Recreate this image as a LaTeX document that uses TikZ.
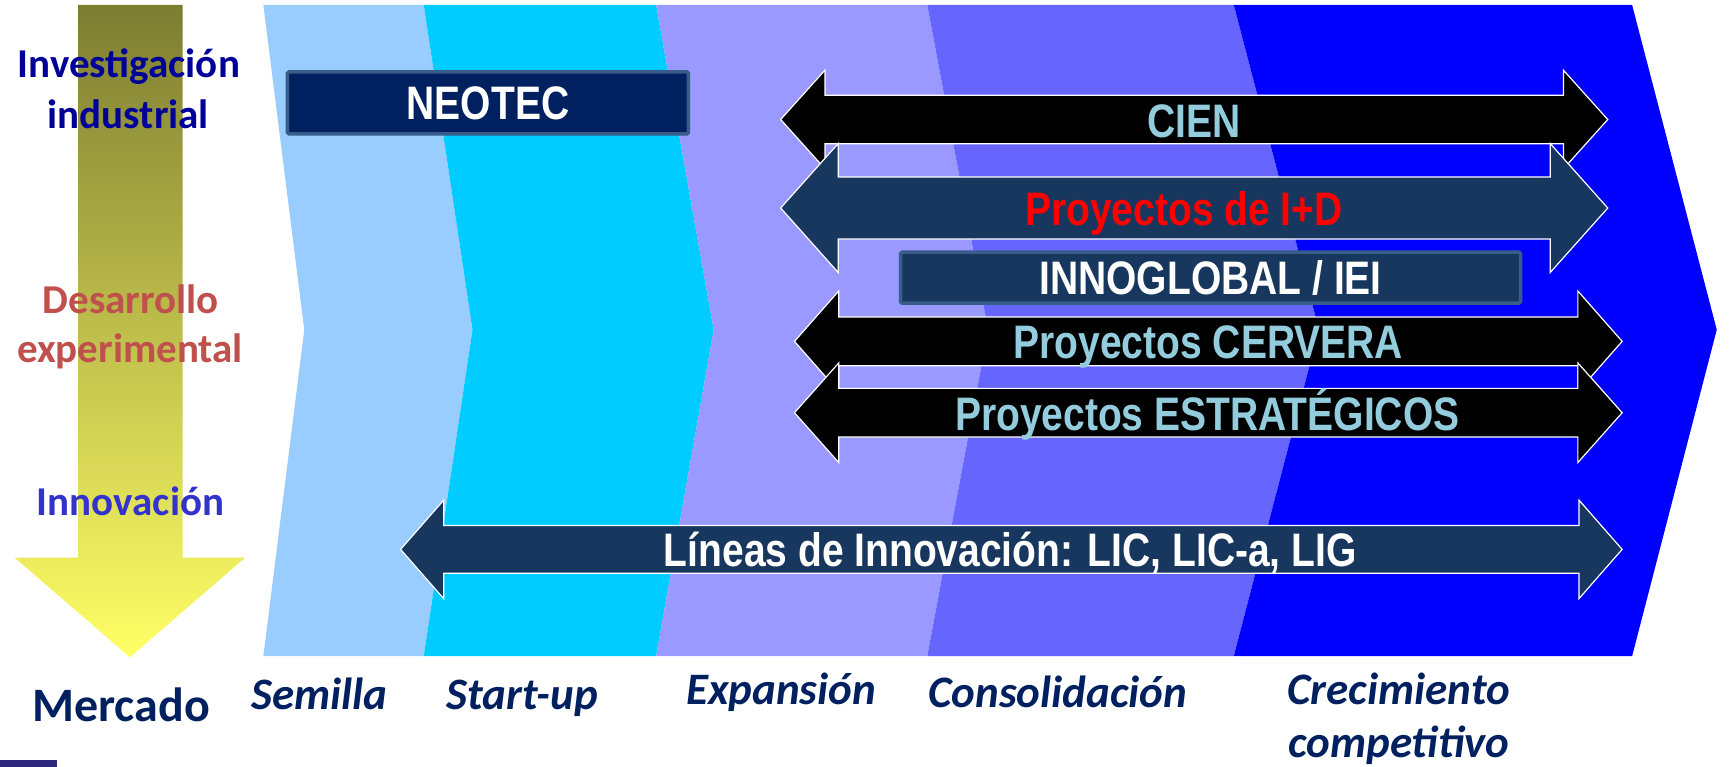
\documentclass[tikz,border=0pt]{standalone}
\usepackage{fontspec}
\setmainfont{Carlito}
\newfontfamily\arrowfont[FakeStretch=0.83]{Liberation Sans Bold}
\usetikzlibrary{positioning}

\definecolor{seedblue}{HTML}{99CCFF}
\definecolor{startblue}{HTML}{00CCFF}
\definecolor{expblue}{HTML}{9999FF}
\definecolor{consblue}{HTML}{6666FF}
\definecolor{growblue}{HTML}{0000FF}
\definecolor{navyfill}{HTML}{17375E}
\definecolor{darknavy}{HTML}{002060}
\definecolor{boxedge}{HTML}{385D8A}
\definecolor{paleaqua}{HTML}{93CDDD}
\definecolor{researchblue}{HTML}{000099}
\definecolor{devred}{HTML}{C0504D}
\definecolor{innovblue}{HTML}{3333CC}
\definecolor{oliveshade}{RGB}{125,125,50}
\definecolor{yellowshade}{RGB}{255,255,102}
\definecolor{logoblue}{RGB}{48,40,124}

% #1 left tip, #2 right tip, #3 y, #4 half shaft, #5 half head, #6 head length, #7 fill
\newcommand{\twowayarrow}[7]{%
  \filldraw[fill=#7, draw=white, line width=1.2pt, line join=miter]
    (#1,#3) -- (#1+#6,#3-#5) -- (#1+#6,#3-#4) -- (#2-#6,#3-#4) -- (#2-#6,#3-#5)
    -- (#2,#3) -- (#2-#6,#3+#5) -- (#2-#6,#3+#4) -- (#1+#6,#3+#4) -- (#1+#6,#3+#5) -- cycle;}

\begin{document}
\begin{tikzpicture}[x=1.1065pt, y=-1.1065pt,
        arrowtext/.style={anchor=base, inner sep=0pt, font={\arrowfont\fontsize{47}{50}\selectfont}},
        boxed/.style={rectangle, draw=boxedge, line width=3.5pt, rounded corners=1.5pt, text=white, text depth=0pt,
                      font={\arrowfont\fontsize{47}{50}\selectfont}},
        sidelabel/.style={anchor=base, inner sep=0pt, font={\bfseries\fontsize{41}{44}\selectfont}},
        stagelabel/.style={anchor=base, inner sep=0pt, text=darknavy, font={\bfseries\itshape\fontsize{45}{48}\selectfont}}
      ]
        \useasboundingbox (0,0) rectangle (1568,693);

        \shade[top color=oliveshade, bottom color=yellowshade]
          (70.6,4.5) -- (165,4.5) -- (165,504) -- (221.5,504) -- (117.4,594) -- (13.3,504) -- (70.6,504) -- cycle;

        \fill[seedblue]  (238,4.5) -- (275,298) -- (238,593) -- (383,593) -- (427,298) -- (383,4.5) -- cycle;
        \fill[startblue] (383,4.5) -- (427,298) -- (383,593) -- (593,593) -- (645,298) -- (593,4.5) -- cycle;
        \fill[expblue]   (593,4.5) -- (645,298) -- (593,593) -- (838,593) -- (893,298) -- (838,4.5) -- cycle;
        \fill[consblue]  (838,4.5) -- (893,298) -- (838,593) -- (1115,593) -- (1192,298) -- (1115,4.5) -- cycle;
        \fill[growblue]  (1115,4.5) -- (1192,298) -- (1115,593) -- (1475,593) -- (1551.5,298) -- (1475,4.5) -- cycle;

        \twowayarrow{705.5}{1453}{108}{22}{44.5}{40}{black}
        \twowayarrow{705.5}{1453}{188}{28}{58.25}{52}{navyfill}
        \twowayarrow{718}{1466}{308.5}{22}{45.5}{40}{black}
        \twowayarrow{718}{1466}{373}{22}{45}{40}{black}
        \twowayarrow{362}{1466}{496.5}{21.5}{44.5}{39}{navyfill}

        \node[boxed, fill=darknavy, minimum width=401pt, minimum height=62pt]  (neotec)     at (441,93)      {NEOTEC};
        \node[boxed, fill=navyfill, minimum width=620pt, minimum height=51pt]  (innoglobal) at (1094,251)    {INNOGLOBAL / IEI};

        \node[arrowtext, text=paleaqua]  (cien)          at (1079,124)   {CIEN};
        \node[arrowtext, text=red]       (idi)           at (1070,204)   {Proyectos de I+D};
        \node[arrowtext, text=paleaqua]  (cervera)       at (1092,324)   {Proyectos CERVERA};
        \node[arrowtext, text=paleaqua]  (estrategicos)  at (1091,389.5) {Proyectos ESTRATÉGICOS};
        \node[arrowtext, text=white]     (lineas)        at (913,512)    {Líneas de Innovación: LIC, LIC-a, LIG};

        \node[sidelabel, text=researchblue]  (investigacion) at (116.5,70)  {Investigación};
        \node[sidelabel, text=researchblue]  (industrial)    at (116,116)   {industrial};
        \node[sidelabel, text=devred]        (desarrollo)    at (118,283)   {Desarrollo};
        \node[sidelabel, text=devred]        (experimental)  at (117.5,328) {experimental};
        \node[sidelabel, text=innovblue]     (innovacion)    at (118,466)   {Innovación};
        \node[sidelabel, text=darknavy, font={\bfseries\fontsize{48}{50}\selectfont}] (mercado) at (109.5,652.5) {Mercado};

        \node[stagelabel]  (semilla)       at (288.5,641)  {Semilla};
        \node[stagelabel]  (startup)       at (472,641)    {Start-up};
        \node[stagelabel]  (expansion)     at (706,637)    {Expansión};
        \node[stagelabel]  (consolidacion) at (956,639)    {Consolidación};
        \node[stagelabel]  (crecimiento)   at (1264,637)   {Crecimiento};
        \node[stagelabel]  (competitivo)   at (1264,685)   {competitivo};

        \fill[logoblue] (0,687) rectangle (51.5,693);
      \end{tikzpicture}
\end{document}
